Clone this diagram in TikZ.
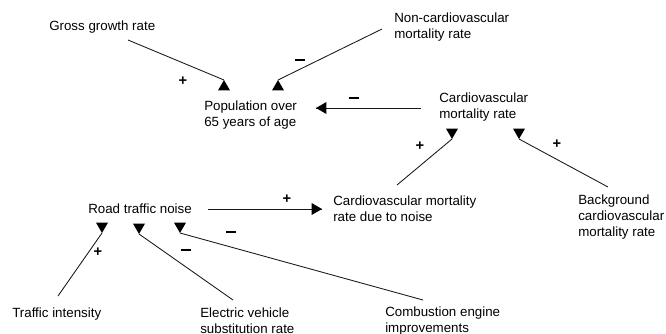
\documentclass[tikz,border=0pt]{standalone}
\usepackage{fontspec}
\setmainfont{Liberation Sans}
\usetikzlibrary{shapes.geometric}

\newcommand{\neglink}{\rule{7.5pt}{1.8pt}}

\begin{document}
\begin{tikzpicture}[
x=0.75pt,y=-0.75pt,
var/.style={align=left,inner sep=0pt,anchor=west,font=\fontsize{10}{12}\selectfont},
link/.style={line width=0.65pt,draw=black!90},
head/.style={regular polygon,regular polygon sides=3,fill=black,draw=none,inner sep=0pt,outer sep=0pt,minimum size=10.4pt,anchor=corner 1},
tipup/.style={head},
tipdown/.style={head,shape border rotate=180},
tipleft/.style={head,shape border rotate=90},
tipright/.style={head,shape border rotate=270},
sign/.style={inner sep=0pt,font=\bfseries\fontsize{11}{12}\selectfont}
]
\useasboundingbox (0,0) rectangle (666,333);

% variables
\node[var] (gross) at (49,27) {Gross growth rate};
\node[var] (noncardio) at (394,27) {Non-cardiovascular\\mortality rate};
\node[var] (pop) at (204,115) {Population over\\65 years of age};
\node[var] (cardio) at (439,107) {Cardiovascular\\mortality rate};
\node[var] (noise) at (88,209) {Road traffic noise};
\node[var] (cardionoise) at (333,209) {Cardiovascular mortality\\rate due to noise};
\node[var] (background) at (578,217) {Background\\cardiovascular\\mortality rate};
\node[var] (traffic) at (12,314) {Traffic intensity};
\node[var] (electric) at (200,321) {Electric vehicle\\substitution rate};
\node[var] (combustion) at (385,321) {Combustion engine\\improvements};

% arrow ends
\coordinate (gross-out) at (128,40);
\coordinate (noncardio-out) at (382,29);
\coordinate (cardio-out) at (421,108);
\coordinate (cardionoise-out) at (397,185);
\coordinate (background-out) at (608,187);
\coordinate (noise-out) at (208,209);
\coordinate (traffic-out) at (58,296);
\coordinate (electric-out) at (233,300);
\coordinate (combustion-out) at (423,300);
\coordinate (pop-in1) at (224,80);
\coordinate (pop-in2) at (278,80);
\coordinate (pop-in3) at (316,108);
\coordinate (cardio-in1) at (452,139);
\coordinate (cardio-in2) at (519,139);
\coordinate (cardionoise-in) at (322,209);
\coordinate (noise-in1) at (102,233);
\coordinate (noise-in2) at (139,234);
\coordinate (noise-in3) at (180,233);

% links
\draw[link] (gross-out) -- (pop-in1) node[tipup] (h1) {};
\draw[link] (noncardio-out) -- (pop-in2) node[tipup] (h2) {};
\draw[link] (cardio-out) -- (pop-in3) node[tipleft] (h3) {};
\draw[link] (cardionoise-out) -- (cardio-in1) node[tipdown] (h4) {};
\draw[link] (background-out) -- (cardio-in2) node[tipdown] (h5) {};
\draw[link] (noise-out) -- (cardionoise-in) node[tipright] (h6) {};
\draw[link] (traffic-out) -- (noise-in1) node[tipdown] (h7) {};
\draw[link] (electric-out) -- (noise-in2) node[tipdown] (h8) {};
\draw[link] (combustion-out) -- (noise-in3) node[tipdown] (h9) {};

% polarities
\node[sign] (s1) at (183,81) {+};
\node[sign] (s2) at (300,60) {\neglink};
\node[sign] (s3) at (354,98) {\neglink};
\node[sign] (s4) at (420,146) {+};
\node[sign] (s5) at (557,144) {+};
\node[sign] (s6) at (287,199) {+};
\node[sign] (s7) at (98,252) {+};
\node[sign] (s8) at (186,250) {\neglink};
\node[sign] (s9) at (231,232) {\neglink};
\end{tikzpicture}
\end{document}
